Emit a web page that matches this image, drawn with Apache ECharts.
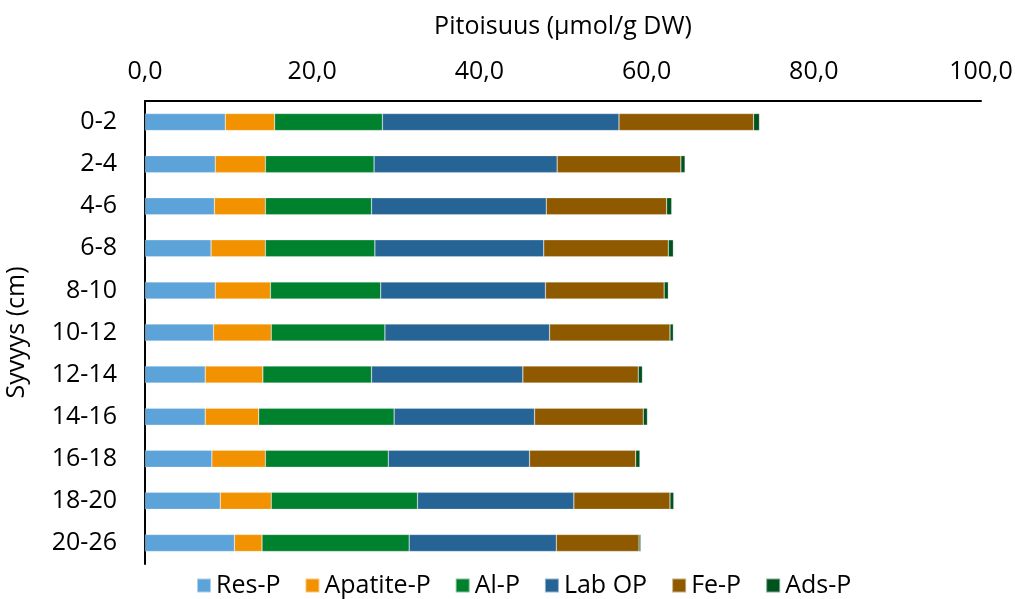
<!DOCTYPE html>
<html>
<head>
<meta charset="utf-8">
<script src="https://cdn.jsdelivr.net/npm/echarts@6/dist/echarts.min.js"></script>
<style>
  html, body { margin: 0; padding: 0; background: #fff; }
  #chart { width: 1015px; height: 599px; }
</style>
</head>
<body>
<div id="chart"></div>
<script>
// syvyysvälit (cm)
const depths = ['0-2', '2-4', '4-6', '6-8', '8-10', '10-12', '12-14', '14-16', '16-18', '18-20', '20-26'];
const xTicks = [0, 20, 40, 60, 80, 100];

// fosforifraktiot, µmol/g DW
const resP     = [9.6, 8.4, 8.3, 7.9, 8.4, 8.2, 7.2, 7.2, 8.0, 9.0, 10.7];
const apatiteP = [5.9, 6.0, 6.1, 6.5, 6.6, 6.9, 6.9, 6.4, 6.4, 6.1, 3.3];
const alP      = [12.9, 13.0, 12.7, 13.1, 13.2, 13.6, 13.0, 16.2, 14.7, 17.5, 17.6];
const labOP    = [28.3, 21.9, 20.9, 20.2, 19.7, 19.7, 18.1, 16.8, 16.9, 18.7, 17.6];
const feP      = [16.1, 14.8, 14.4, 14.9, 14.2, 14.4, 13.8, 13.0, 12.7, 11.5, 9.9];
const adsP     = [0.7, 0.5, 0.6, 0.6, 0.5, 0.4, 0.5, 0.5, 0.5, 0.45, 0.2];

const seriesDefs = [
  { name: 'Res-P', data: resP, color: '#5ba3d9' },
  { name: 'Apatite-P', data: apatiteP, color: '#f29200' },
  { name: 'Al-P', data: alP, color: '#00812e' },
  { name: 'Lab OP', data: labOP, color: '#266496' },
  { name: 'Fe-P', data: feP, color: '#8f5900' },
  { name: 'Ads-P', data: adsP, color: '#00531f' }
];

const font = '"Open Sans", "Noto Sans", sans-serif';
const fs = 25;
const chart = echarts.init(document.getElementById('chart'));

chart.setOption({
  animation: false,
  textStyle: { fontFamily: font, color: '#000' },
  grid: { left: 145, right: 34, top: 101, bottom: 35, outerBoundsMode: 'none', containLabel: false },
  legend: {
    bottom: -4,
    left: 191,
    itemWidth: 14,
    itemHeight: 14,
    itemGap: 24,
    icon: 'rect',
    textStyle: { fontSize: fs, color: '#000', fontFamily: font },
    data: seriesDefs.map(s => s.name)
  },
  xAxis: {
    type: 'value',
    position: 'top',
    min: xTicks[0],
    max: xTicks[xTicks.length - 1],
    interval: 20,
    name: 'Pitoisuus (µmol/g DW)',
    nameLocation: 'middle',
    nameGap: 62,
    nameTextStyle: { fontSize: fs, color: '#000', fontFamily: font },
    axisLine: { show: true, lineStyle: { color: '#000', width: 2 } },
    axisTick: { show: false },
    splitLine: { show: false },
    axisLabel: {
      fontSize: fs,
      color: '#000',
      margin: 17,
      formatter: v => v.toFixed(1).replace('.', ',')
    }
  },
  yAxis: {
    type: 'category',
    inverse: true,
    data: depths,
    name: 'Syvyys (cm)',
    nameLocation: 'middle',
    nameRotate: 90,
    nameGap: 116,
    nameTextStyle: { fontSize: fs, color: '#000', fontFamily: font },
    axisLine: { show: true, lineStyle: { color: '#000', width: 2 } },
    axisTick: { show: false },
    axisLabel: { fontSize: fs, color: '#000', margin: 28 }
  },
  series: seriesDefs.map(s => ({
    name: s.name,
    type: 'bar',
    stack: 'p',
    barWidth: 17,
    data: s.data,
    itemStyle: { color: s.color, borderColor: 'rgba(255,255,255,0.5)', borderWidth: 0.5 }
  }))
});
</script>
</body>
</html>
